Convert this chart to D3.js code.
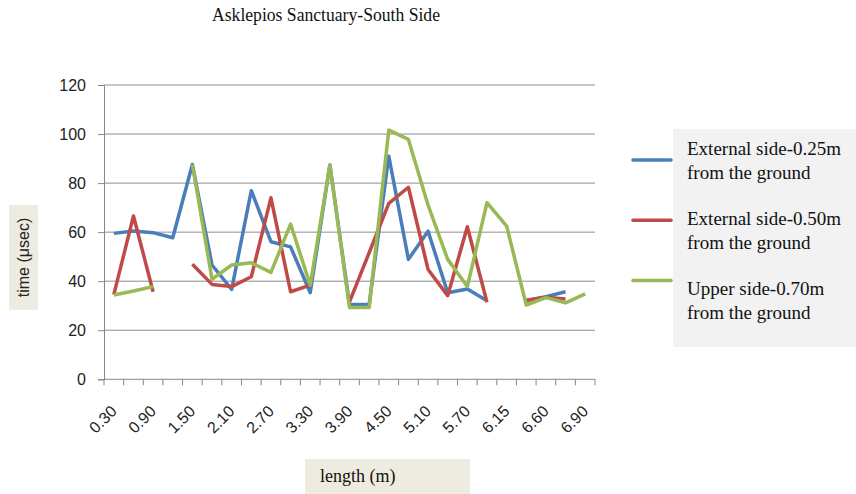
<!DOCTYPE html>
<html>
<head>
<meta charset="utf-8">
<script src="https://cdn.jsdelivr.net/npm/d3@7"></script>
<style>
  body { margin: 0; background: #fff; }
  svg { display: block; }
</style>
</head>
<body>
<div id="chart"></div>
<script>
const lengths = ["0.30","0.60","0.90","1.20","1.50","1.80","2.10","2.40","2.70","3.00",
  "3.30","3.60","3.90","4.20","4.50","4.80","5.10","5.40","5.70","6.00",
  "6.15","6.45","6.60","6.75","6.90"]

const external25 = [59.5, 60.5, 59.8, 57.7, 87.6, 46.6, 36.7, 76.9, 56.1, 54,
  35.3, 87.4, 30.5, 30.5, 91, 48.9, 60.4, 35.3, 36.8, 32,
  null, 32, 33.7, 35.7, null]

const external50 = [34.5, 66.6, 35.7, null, 46.9, 38.7, 37.8, 41.8, 74, 35.7,
  38.4, null, 31.6, 51.6, 71.7, 78.3, 44.8, 34.1, 62.2, 31.4,
  null, 32.2, 33.5, 32.7, null]

const upper70 = [34.4, 36, 37.8, null, 87.6, 40.8, 46.6, 47.5, 43.6, 63.3,
  38.4, 87.4, 29.3, 29.3, 101.6, 97.8, 71, 48.9, 37.8, 72,
  62.5, 30.3, 33.3, 31.2, 34.8]

const seriesNames = [
  ["External side-0.25m", "from the ground"],
  ["External side-0.50m", "from the ground"],
  ["Upper side-0.70m", "from the ground"]
]
const colors = ["#4A7EBB", "#BE4B48", "#98B954"]
const yTicks = [0, 20, 40, 60, 80, 100, 120]
const labelEvery = 2

const width = 856
const height = 494

const svg = d3.select("#chart")
  .append("svg")
  .attr("width", width)
  .attr("height", height)

const x = d3.scaleBand()
  .domain(lengths)
  .range([104, 595])
  .padding(0)

const y = d3.scaleLinear()
  .domain([0, 120])
  .range([379.3, 85])

// title
svg.append("text")
  .attr("x", 212)
  .attr("y", 21)
  .attr("textLength", 228)
  .attr("lengthAdjust", "spacingAndGlyphs")
  .style("font-family", "'Liberation Serif', serif")
  .style("font-size", "18px")
  .style("fill", "#111")
  .text("Asklepios Sanctuary-South Side")

// gridlines
svg.selectAll("line.grid")
  .data(yTicks.filter(d => d > 0))
  .join("line")
  .attr("class", "grid")
  .attr("x1", 104)
  .attr("x2", 595)
  .attr("y1", d => y(d))
  .attr("y2", d => y(d))
  .attr("stroke", "#8e8e8e")
  .attr("stroke-width", 1)

// y axis
const yAxis = svg.append("g")
  .attr("transform", "translate(104,0)")
  .call(d3.axisLeft(y).tickValues(yTicks).tickSize(6).tickPadding(12))
yAxis.select(".domain").attr("stroke", "#868686")
yAxis.selectAll(".tick line").attr("stroke", "#868686")
yAxis.selectAll("text")
  .style("font-family", "'Liberation Sans', sans-serif")
  .style("font-size", "16px")
  .style("fill", "#222")

// x axis line + ticks at category boundaries
svg.append("line")
  .attr("x1", 104).attr("x2", 595)
  .attr("y1", y(0)).attr("y2", y(0))
  .attr("stroke", "#868686")
svg.selectAll("line.xtick")
  .data(lengths.map(d => x(d)).concat([x.range()[1]]))
  .join("line")
  .attr("class", "xtick")
  .attr("x1", d => d).attr("x2", d => d)
  .attr("y1", y(0)).attr("y2", y(0) + 6)
  .attr("stroke", "#868686")

svg.selectAll("text.xlabel")
  .data(lengths.filter((d, i) => i % labelEvery === 0))
  .join("text")
  .attr("class", "xlabel")
  .attr("transform", d => `translate(${x(d) + x.bandwidth() / 2 + 4},${y(0) + 33}) rotate(-45)`)
  .attr("text-anchor", "end")
  .style("font-family", "'Liberation Sans', sans-serif")
  .style("font-size", "16px")
  .style("fill", "#222")
  .text(d => d)

// lines
const line = d3.line()
  .defined(d => d.v != null)
  .x(d => x(d.len) + x.bandwidth() / 2)
  .y(d => y(d.v))

const series = [external25, external50, upper70]
series.forEach((vals, k) => {
  svg.append("path")
    .datum(vals.map((v, i) => ({len: lengths[i], v: v})))
    .attr("d", line)
    .attr("fill", "none")
    .attr("stroke", colors[k])
    .attr("stroke-width", 3.5)
    .attr("stroke-linejoin", "round")
})

// y title
svg.append("rect")
  .attr("x", 9).attr("y", 205)
  .attr("width", 29).attr("height", 105)
  .attr("fill", "#EEECE1")
svg.append("text")
  .attr("transform", "translate(29,257.5) rotate(-90)")
  .attr("text-anchor", "middle")
  .style("font-family", "'Liberation Sans', sans-serif")
  .style("font-size", "16px")
  .style("fill", "#222")
  .text("time (μsec)")

// x title
svg.append("rect")
  .attr("x", 305).attr("y", 459)
  .attr("width", 165).attr("height", 35)
  .attr("fill", "#EEECE1")
svg.append("text")
  .attr("x", 320).attr("y", 482)
  .style("font-family", "'Liberation Serif', serif")
  .style("font-size", "18px")
  .style("fill", "#111")
  .text("length (m)")

// legend
svg.append("rect")
  .attr("x", 673).attr("y", 129)
  .attr("width", 183).attr("height", 218)
  .attr("fill", "#F2F2F2")

const legend = svg.selectAll("g.legend")
  .data(seriesNames)
  .join("g")
  .attr("class", "legend")

legend.append("line")
  .attr("x1", 633).attr("x2", 671)
  .attr("y1", (d, i) => 160 + i * 60.3)
  .attr("y2", (d, i) => 160 + i * 60.3)
  .attr("stroke", (d, i) => colors[i])
  .attr("stroke-width", 3.5)
  .attr("stroke-linecap", "round")

legend.append("text")
  .attr("x", 687)
  .attr("y", (d, i) => 155 + i * 70.2)
  .style("font-family", "'Liberation Serif', serif")
  .style("font-size", "19px")
  .style("fill", "#111")
  .selectAll("tspan")
  .data(d => d)
  .join("tspan")
  .attr("x", 687)
  .attr("dy", (d, i) => i === 0 ? 0 : 23.5)
  .text(d => d)
</script>
</body>
</html>
